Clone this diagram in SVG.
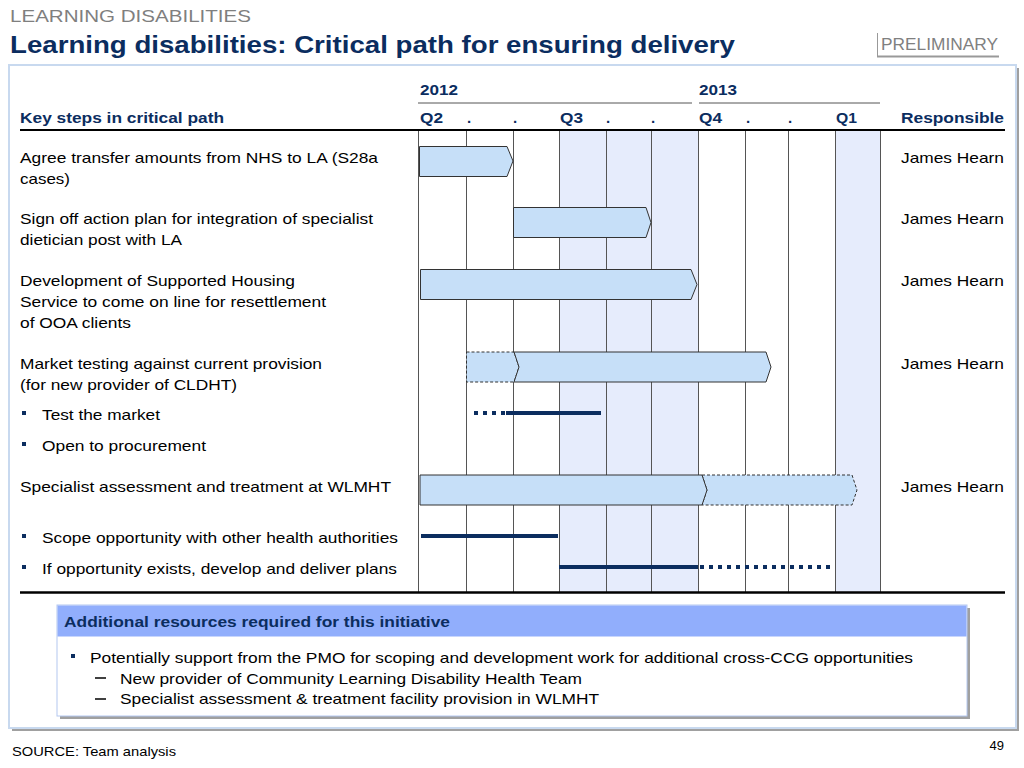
<svg xmlns="http://www.w3.org/2000/svg" width="1024" height="768" viewBox="0 0 1024 768">
<style>
text{font-family:"Liberation Sans",Arial,sans-serif;}
.row{font-size:15px;fill:#000;}
.resp{font-size:15px;fill:#000;text-anchor:end;}
.hdr{font-size:15px;font-weight:bold;fill:#0b2d5f;}
.bar{fill:#c6dff8;stroke:#333;stroke-width:1;}
.bard{fill:#c6dff8;stroke:#333;stroke-width:1;stroke-dasharray:3 2;}
.col{stroke:#555;stroke-width:1;}
.act{stroke:#0b2d5f;stroke-width:4;fill:none;}
.actd{stroke:#0b2d5f;stroke-width:4;fill:none;stroke-dasharray:4 5;}
.bul{fill:#0b2d5f;}
</style>
<rect width="1024" height="768" fill="#fff"/>
<g id="titles">
<text x="10" y="22" font-size="17" fill="#7f7f7f" textLength="241" lengthAdjust="spacingAndGlyphs">LEARNING DISABILITIES</text>
<text x="10" y="53" font-size="24" font-weight="bold" fill="#0b2d5f" textLength="725" lengthAdjust="spacingAndGlyphs">Learning disabilities: Critical path for ensuring delivery</text>
</g>
<g id="preliminary">
<line x1="877.5" y1="33" x2="877.5" y2="57" stroke="#999" stroke-width="1"/>
<line x1="877" y1="56.5" x2="999" y2="56.5" stroke="#999" stroke-width="2"/>
<text x="881" y="50" font-size="16" fill="#808080" textLength="117" lengthAdjust="spacingAndGlyphs">PRELIMINARY</text>
</g>
<g id="frame">
<rect x="12" y="68" width="1007" height="663" fill="#a0a0a0"/>
<rect x="9" y="65" width="1007" height="663" fill="#fff" stroke="#c8d9ef" stroke-width="2"/>
</g>
<g id="shading">
<rect x="559" y="131" width="139" height="461" fill="#e6ecfc"/>
<rect x="835" y="131" width="45" height="461" fill="#e6ecfc"/>
</g>
<g id="header">
<text x="420" y="95" class="hdr" textLength="38" lengthAdjust="spacingAndGlyphs">2012</text>
<text x="699" y="95" class="hdr" textLength="38" lengthAdjust="spacingAndGlyphs">2013</text>
<line x1="418" y1="103" x2="692" y2="103" stroke="#555" stroke-width="1"/>
<line x1="699" y1="103" x2="880" y2="103" stroke="#555" stroke-width="1"/>
<text x="20" y="123" class="hdr" textLength="204" lengthAdjust="spacingAndGlyphs">Key steps in critical path</text>
<text x="420" y="123" class="hdr" textLength="23" lengthAdjust="spacingAndGlyphs">Q2</text>
<text x="467" y="123" class="hdr">.</text>
<text x="513" y="123" class="hdr">.</text>
<text x="560" y="123" class="hdr" textLength="23" lengthAdjust="spacingAndGlyphs">Q3</text>
<text x="606" y="123" class="hdr">.</text>
<text x="651" y="123" class="hdr">.</text>
<text x="699" y="123" class="hdr" textLength="23" lengthAdjust="spacingAndGlyphs">Q4</text>
<text x="746" y="123" class="hdr">.</text>
<text x="788" y="123" class="hdr">.</text>
<text x="836" y="123" class="hdr" textLength="21" lengthAdjust="spacingAndGlyphs">Q1</text>
<text x="1004" y="123" class="hdr" text-anchor="end" textLength="103" lengthAdjust="spacingAndGlyphs">Responsible</text>
<line x1="20" y1="130" x2="1005" y2="130" stroke="#000" stroke-width="2"/>
</g>
<g id="grid">
<line class="col" x1="418.5" y1="131" x2="418.5" y2="592"/>
<line class="col" x1="466.5" y1="131" x2="466.5" y2="592"/>
<line class="col" x1="513.5" y1="131" x2="513.5" y2="592"/>
<line class="col" x1="559.5" y1="131" x2="559.5" y2="592"/>
<line class="col" x1="606.5" y1="131" x2="606.5" y2="592"/>
<line class="col" x1="651.5" y1="131" x2="651.5" y2="592"/>
<line class="col" x1="698.5" y1="131" x2="698.5" y2="592"/>
<line class="col" x1="745.5" y1="131" x2="745.5" y2="592"/>
<line class="col" x1="788.5" y1="131" x2="788.5" y2="592"/>
<line class="col" x1="835.5" y1="131" x2="835.5" y2="592"/>
<line class="col" x1="880.5" y1="131" x2="880.5" y2="592"/>
<line x1="20" y1="592.5" x2="1005" y2="592.5" stroke="#000" stroke-width="2.5"/>
</g>
<g id="row1">
<text x="20" y="163" class="row" textLength="358" lengthAdjust="spacingAndGlyphs">Agree transfer amounts from NHS to LA (S28a</text>
<text x="20" y="184" class="row" textLength="50" lengthAdjust="spacingAndGlyphs">cases)</text>
<polygon class="bar" points="419.5,146.5 507,146.5 513,161 507,176.5 419.5,176.5"/>
<text x="1004" y="163" class="resp" textLength="103" lengthAdjust="spacingAndGlyphs">James Hearn</text>
</g>
<g id="row2">
<text x="20" y="224" class="row" textLength="353" lengthAdjust="spacingAndGlyphs">Sign off action plan for integration of specialist</text>
<text x="20" y="245" class="row" textLength="162" lengthAdjust="spacingAndGlyphs">dietician post with LA</text>
<polygon class="bar" points="513.5,207.5 646,207.5 651,222.5 646,237.5 513.5,237.5"/>
<text x="1004" y="224" class="resp" textLength="103" lengthAdjust="spacingAndGlyphs">James Hearn</text>
</g>
<g id="row3">
<text x="20" y="286" class="row" textLength="275" lengthAdjust="spacingAndGlyphs">Development of Supported Housing</text>
<text x="20" y="307" class="row" textLength="306" lengthAdjust="spacingAndGlyphs">Service to come on line for resettlement</text>
<text x="20" y="328" class="row" textLength="111" lengthAdjust="spacingAndGlyphs">of OOA clients</text>
<polygon class="bar" points="420.5,269.5 691,269.5 697,284.5 691,299.5 420.5,299.5"/>
<text x="1004" y="286" class="resp" textLength="103" lengthAdjust="spacingAndGlyphs">James Hearn</text>
</g>
<g id="row4">
<text x="20" y="369" class="row" textLength="302" lengthAdjust="spacingAndGlyphs">Market testing against current provision</text>
<text x="20" y="390" class="row" textLength="217" lengthAdjust="spacingAndGlyphs">(for new provider of CLDHT)</text>
<polygon class="bard" points="466.5,352 514,352 519,367 514,382 466.5,382"/>
<polygon class="bar" points="514,352 766,352 771,367 766,382 514,382 519,367"/>
<text x="1004" y="369" class="resp" textLength="103" lengthAdjust="spacingAndGlyphs">James Hearn</text>
</g>
<g id="row4a">
<rect class="bul" x="22" y="411" width="4" height="4"/>
<text x="42" y="420" class="row" textLength="118" lengthAdjust="spacingAndGlyphs">Test the market</text>
<line class="actd" x1="474" y1="413" x2="506" y2="413"/>
<line class="act" x1="506" y1="413" x2="601" y2="413"/>
</g>
<g id="row4b">
<rect class="bul" x="22" y="442" width="4" height="4"/>
<text x="42" y="451" class="row" textLength="164" lengthAdjust="spacingAndGlyphs">Open to procurement</text>
</g>
<g id="row5">
<text x="20" y="492" class="row" textLength="371" lengthAdjust="spacingAndGlyphs">Specialist assessment and treatment at WLMHT</text>
<polygon class="bard" points="702,475 852,475 857,490 852,505 702,505 707,490"/>
<polygon class="bar" points="420,475 702,475 707,490 702,505 420,505"/>
<text x="1004" y="492" class="resp" textLength="103" lengthAdjust="spacingAndGlyphs">James Hearn</text>
</g>
<g id="row5a">
<rect class="bul" x="22" y="534" width="4" height="4"/>
<text x="42" y="543" class="row" textLength="356" lengthAdjust="spacingAndGlyphs">Scope opportunity with other health authorities</text>
<line class="act" x1="421" y1="536" x2="558" y2="536"/>
</g>
<g id="row5b">
<rect class="bul" x="22" y="565" width="4" height="4"/>
<text x="42" y="574" class="row" textLength="355" lengthAdjust="spacingAndGlyphs">If opportunity exists, develop and deliver plans</text>
<line class="act" x1="559" y1="567" x2="698" y2="567"/>
<line class="actd" x1="700" y1="567" x2="835" y2="567"/>
</g>
<g id="resources">
<rect x="60" y="608" width="910" height="111" fill="#a0a0a0"/>
<rect x="57" y="605" width="910" height="111" fill="#fff" stroke="#b4c8f0" stroke-width="1"/>
<rect x="57.5" y="605.5" width="909" height="31" fill="#91aefc"/>
<text x="64" y="627" class="hdr" textLength="386" lengthAdjust="spacingAndGlyphs">Additional resources required for this initiative</text>
<rect x="71" y="654" width="4" height="4" class="bul"/>
<text x="90" y="663" class="row" textLength="823" lengthAdjust="spacingAndGlyphs">Potentially support from the PMO for scoping and development work for additional cross-CCG opportunities</text>
<line x1="95" y1="678" x2="106" y2="678" stroke="#000" stroke-width="1.5"/>
<text x="120" y="684" class="row" textLength="462" lengthAdjust="spacingAndGlyphs">New provider of Community Learning Disability Health Team</text>
<line x1="95" y1="699" x2="106" y2="699" stroke="#000" stroke-width="1.5"/>
<text x="120" y="704" class="row" textLength="479" lengthAdjust="spacingAndGlyphs">Specialist assessment &amp; treatment facility provision in WLMHT</text>
</g>
<g id="footer">
<text x="12" y="756" font-size="13" fill="#000" textLength="164" lengthAdjust="spacingAndGlyphs">SOURCE: Team analysis</text>
<text x="1004" y="750" font-size="13" fill="#000" text-anchor="end">49</text>
</g>
</svg>
